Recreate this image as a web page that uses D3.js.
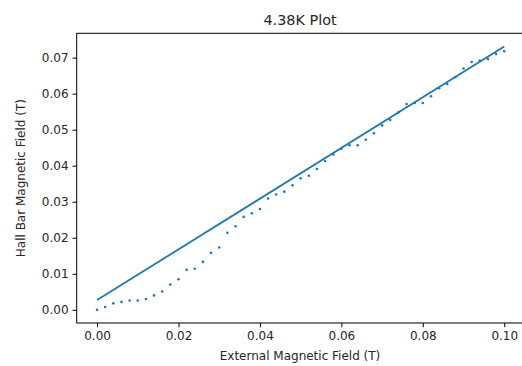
<!DOCTYPE html>
<html>
<head>
<meta charset="utf-8">
<script src="https://cdn.jsdelivr.net/npm/d3@7"></script>
<style>
  body { margin: 0; background: #fff; }
  svg { display: block; font-family: "DejaVu Sans", sans-serif; }
</style>
</head>
<body>
<div id="chart"></div>
<script>
// measured hall bar field, sampled every 0.002 T of external field
const fieldX = d3.range(51).map(i => +(i * 0.002).toFixed(3));
const hallY = [
  0.0000, 0.0008, 0.0018, 0.0022, 0.0026, 0.0026, 0.0030, 0.0040, 0.0051, 0.0070,
  0.0085, 0.0111, 0.0114, 0.0133, 0.0158, 0.0173, 0.0214, 0.0232, 0.0258, 0.0268,
  0.0280, 0.0309, 0.0320, 0.0328, 0.0346, 0.0365, 0.0372, 0.0391, 0.0413, 0.0431,
  0.0447, 0.0457, 0.0457, 0.0472, 0.0490, 0.0512, 0.0527, 0.0548, 0.0571, 0.0574,
  0.0574, 0.0593, 0.0615, 0.0627, 0.0646, 0.0670, 0.0688, 0.0692, 0.0696, 0.0710,
  0.0718
];
// fitted line end points
const fitX = [0.0, 0.1];
const fitY = [0.0027, 0.0731];

const xTicks = [0.00, 0.02, 0.04, 0.06, 0.08, 0.10];
const yTicks = [0.00, 0.01, 0.02, 0.03, 0.04, 0.05, 0.06, 0.07];

const width = 522, height = 366;
// right edge of the axes box falls just outside the picture
const margin = { top: 33.3, right: -2.6, bottom: 43, left: 76.7 };
const blue = '#1f77b4';
const textColor = '#262626';

const svg = d3.select('#chart')
  .append('svg')
  .attr('width', width)
  .attr('height', height);

// matplotlib style 5% padding around the data
function padded(vals) {
  const [lo, hi] = d3.extent(vals);
  const m = (hi - lo) * 0.05;
  return [lo - m, hi + m];
}

const xScale = d3.scaleLinear()
  .domain(padded(fieldX.concat(fitX)))
  .range([margin.left, width - margin.right]);

const yScale = d3.scaleLinear()
  .domain(padded(hallY.concat(fitY)))
  .range([height - margin.bottom, margin.top]);

const xAxis = d3.axisBottom(xScale)
  .tickValues(xTicks)
  .tickFormat(d3.format('.2f'))
  .tickSize(4.2)
  .tickPadding(4);

const yAxis = d3.axisLeft(yScale)
  .tickValues(yTicks)
  .tickFormat(d3.format('.2f'))
  .tickSize(4.2)
  .tickPadding(4);

const gx = svg.append('g')
  .attr('transform', `translate(0, ${height - margin.bottom})`)
  .call(xAxis);

const gy = svg.append('g')
  .attr('transform', `translate(${margin.left}, 0)`)
  .call(yAxis);

[gx, gy].forEach(g => {
  g.select('.domain').remove();
  g.selectAll('.tick line').attr('stroke', '#000').attr('stroke-width', 1);
  g.selectAll('.tick text')
    .attr('fill', textColor)
    .style('font-size', '12px')
    .style('font-family', '"DejaVu Sans", sans-serif');
});

// frame
svg.append('rect')
  .attr('x', xScale.range()[0])
  .attr('y', yScale.range()[1])
  .attr('width', xScale.range()[1] - xScale.range()[0])
  .attr('height', yScale.range()[0] - yScale.range()[1])
  .attr('fill', 'none')
  .attr('stroke', '#000')
  .attr('stroke-width', 1);

// fit line
const line = d3.line()
  .x(d => xScale(d[0]))
  .y(d => yScale(d[1]));

svg.append('path')
  .datum(fitX.map((x, i) => [x, fitY[i]]))
  .attr('d', line)
  .attr('fill', 'none')
  .attr('stroke', blue)
  .attr('stroke-width', 1.8);

// data dots
svg.selectAll('.dot')
  .data(fieldX.map((x, i) => [x, hallY[i]]))
  .enter()
  .append('circle')
  .attr('class', 'dot')
  .attr('cx', d => xScale(d[0]))
  .attr('cy', d => yScale(d[1]))
  .attr('r', 1.3)
  .attr('fill', blue);

// labels
svg.append('text')
  .attr('x', 300)
  .attr('y', 24.5)
  .attr('text-anchor', 'middle')
  .style('font-size', '14.4px')
  .attr('fill', textColor)
  .text('4.38K Plot');

svg.append('text')
  .attr('x', 300)
  .attr('y', 360)
  .attr('text-anchor', 'middle')
  .style('font-size', '12px')
  .attr('fill', textColor)
  .text('External Magnetic Field (T)');

const plotMidY = (yScale.range()[0] + yScale.range()[1]) / 2;
svg.append('text')
  .attr('transform', `translate(25, ${plotMidY}) rotate(-90)`)
  .attr('text-anchor', 'middle')
  .style('font-size', '12px')
  .attr('fill', textColor)
  .text('Hall Bar Magnetic Field (T)');
</script>
</body>
</html>
